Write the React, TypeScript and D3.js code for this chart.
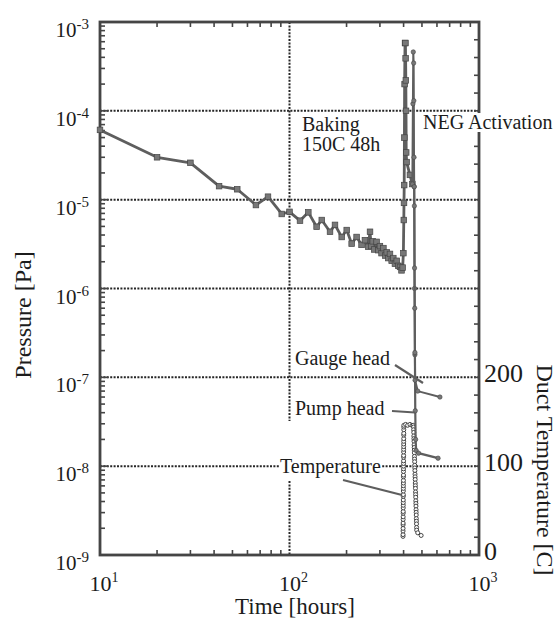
import React from 'react';
import * as d3 from 'd3';

const W = 560, H = 623;
const L = 100, R = 479, T = 22, B = 555;

// Gauge head pressure [Pa] vs time [hours]
const gaugeTime = [10, 20, 30, 42.5, 53, 66.5, 77, 91, 100, 113.6, 125.7, 139, 148, 163.6, 173.8, 188.6, 200.4, 212.8, 226, 240, 250, 260, 266, 270, 275, 280, 288, 294, 300, 306, 313, 320, 326, 332, 339, 346, 353, 360, 368, 375, 383, 390, 395.5,
  399, 401, 402, 403, 404, 405, 407, 409, 410, 411, 412, 413, 415, 432, 445, 448, 450, 452, 453, 454, 455, 456, 457, 458, 459, 460, 475, 622];
const gaugePressure = [6.1e-5, 3.0e-5, 2.6e-5, 1.42e-5, 1.31e-5, 8.7e-6, 1.08e-5, 6.9e-6, 7.3e-6, 5.8e-6, 7.2e-6, 4.95e-6, 5.9e-6, 4.35e-6, 5.2e-6, 3.8e-6, 4.55e-6, 3.2e-6, 3.8e-6, 3.1e-6, 3.5e-6, 2.95e-6, 4.35e-6, 3.0e-6, 3.4e-6, 2.75e-6, 3.35e-6, 2.7e-6, 3.0e-6, 2.5e-6, 2.85e-6, 2.35e-6, 2.55e-6, 2.2e-6, 2.45e-6, 2.05e-6, 2.2e-6, 1.9e-6, 2.05e-6, 1.8e-6, 1.75e-6, 1.6e-6, 1.72e-6,
  2.5e-6, 5.9e-6, 9.2e-6, 1.46e-5, 5.0e-5, 2.0e-4, 5.8e-4, 5.8e-4, 3.9e-4, 2.2e-4, 1.0e-4, 3.4e-5, 2.65e-5, 1.9e-5, 1.5e-5, 1.2e-4, 4.6e-4, 3.45e-4, 1.3e-4, 3.0e-5, 1.4e-5, 8.5e-6, 1.7e-6, 6.0e-7, 1.9e-7, 9.3e-8, 7.0e-8, 6.0e-8];
const negStart = 448; // NEG activation time [hours]

// Pump head pressure tail
const pumpTime = [455, 457, 459, 461, 463, 466, 480, 608];
const pumpPressure = [1.4e-5, 1.0e-6, 1.8e-7, 4.2e-8, 2.0e-8, 1.5e-8, 1.4e-8, 1.23e-8];

// Duct temperature [C]
const tempTime = [397.2, 397.3, 397.4, 397.5, 397.6, 397.7, 397.8, 397.9, 398.0, 398.1, 398.2, 398.3, 398.4, 398.5, 398.6, 398.7, 398.8, 398.9, 399.0, 399.1, 399.2, 399.3, 399.4, 399.5, 399.6, 399.7, 399.8, 399.9, 400.0, 400.1, 400.2, 400.3, 400.4, 400.5, 400.6, 400.7, 400.8, 400.9, 401.0, 401.1, 401.2,
  410, 420, 432, 443, 450,
  451.5, 452, 452.5, 453, 453.5, 454, 454.5, 455, 455.5, 456, 456.5, 457, 457.5, 458, 458.5, 459, 459.5, 460, 460.5, 461, 461.5, 462, 462.5, 463, 463.5, 464, 464.5, 465, 465.5, 466, 466.5, 467, 467.5, 468, 468.5, 469, 475, 495];
const tempValue = [21, 23, 27, 30, 34, 36, 40, 43, 47, 49, 53, 56, 59, 62, 66, 68, 72, 75, 78, 81, 84, 88, 90, 94, 97, 100, 103, 106, 110, 112, 116, 119, 122, 125, 128, 131, 135, 137, 141, 144, 146,
  147, 146, 147, 146, 146,
  144, 141, 138, 134, 131, 128, 124, 121, 118, 115, 111, 108, 105, 101, 98, 95, 91, 88, 85, 81, 78, 75, 71, 68, 65, 61, 58, 55, 51, 48, 45, 41, 38, 35, 31, 28, 25, 22, 21, 20];

const pressureDecades = [1e-9, 1e-8, 1e-7, 1e-6, 1e-5, 1e-4, 1e-3];
const pressureExp = ['-9', '-8', '-7', '-6', '-5', '-4', '-3'];
const timeDecades = [10, 100, 1000];
const timeExp = ['1', '2', '3'];
const tempLabels = [0, 100, 200];
const minorMult = [2, 3, 4, 5, 6, 7, 8, 9];

const FONT = "'Liberation Serif', 'Times New Roman', serif";
const INK = '#1c1c1c';
const LINE = '#5e5e5e';
const AX = '#454545';

export default function App() {
  const x = d3.scaleLog().domain([10, 1000]).range([L, R]);
  const y = d3.scaleLog().domain([1e-9, 1e-3]).range([B, T]);
  const yT = d3.scaleLinear().domain([0, 600]).range([B, T]);

  const line = d3.line<[number, number]>().x(d => x(d[0])).y(d => y(d[1]));
  const lineT = d3.line<[number, number]>().x(d => x(d[0])).y(d => yT(d[1]));

  const gauge: [number, number][] = gaugeTime.map((t, i) => [t, gaugePressure[i]]);
  const gaugeBake = gauge.filter(d => d[0] < negStart);
  const gaugeNeg = gauge.filter(d => d[0] >= 445);
  const pump: [number, number][] = pumpTime.map((t, i) => [t, pumpPressure[i]]);
  const temp: [number, number][] = tempTime.map((t, i) => [t, tempValue[i]]);

  const yMinor: number[] = [];
  pressureDecades.slice(0, -1).forEach(d => minorMult.forEach(m => yMinor.push(d * m)));
  const xMinor: number[] = [];
  timeDecades.slice(0, -1).forEach(d => minorMult.forEach(m => xMinor.push(d * m)));
  const tTicks = d3.range(0, 601, 20);

  const grid = { stroke: '#262626', strokeWidth: 2, strokeDasharray: '2 1.4' };

  return (
    <svg width={W} height={H} style={{ position: 'absolute', left: 0, top: 0, background: '#fff' }} fontFamily={FONT}>
      <rect x={0} y={0} width={W} height={H} fill="#fff" />
      {/* grid */}
      {pressureDecades.slice(1, -1).map(d => (
        <line key={'gh' + d} x1={L} x2={R} y1={y(d)} y2={y(d)} {...grid} />
      ))}
      <line x1={x(100)} x2={x(100)} y1={T} y2={B} {...grid} />

      {/* label box hiding grid */}
      <rect x={279} y={421} width={103} height={60} fill="#fff" />

      {/* frame */}
      <rect x={L} y={T} width={R - L} height={B - T} fill="none" stroke={AX} strokeWidth={2.8} />
      {/* ticks */}
      {yMinor.map(v => (
        <line key={'ly' + v} x1={L} x2={L + 5} y1={y(v)} y2={y(v)} stroke={AX} strokeWidth={1.6} />
      ))}
      {pressureDecades.map(v => (
        <line key={'lyM' + v} x1={L} x2={L + 8} y1={y(v)} y2={y(v)} stroke={AX} strokeWidth={1.6} />
      ))}
      {xMinor.map(v => (
        <g key={'tx' + v}>
          <line x1={x(v)} x2={x(v)} y1={B} y2={B - 5} stroke={AX} strokeWidth={1.6} />
          <line x1={x(v)} x2={x(v)} y1={T} y2={T + 5} stroke={AX} strokeWidth={1.6} />
        </g>
      ))}
      {tTicks.map(v => (
        <line key={'rt' + v} x1={R} x2={R - 5} y1={yT(v)} y2={yT(v)} stroke={AX} strokeWidth={1.6} />
      ))}

      {/* data: temperature */}
      <path d={lineT(temp) || ''} fill="none" stroke="#666" strokeWidth={0.8} />
      {temp.map((d, i) => (
        <circle key={'tc' + i} cx={x(d[0])} cy={yT(d[1])} r={2} fill="#fff" stroke="#444" strokeWidth={1} />
      ))}

      {/* pump head */}
      <path d={line(pump) || ''} fill="none" stroke={LINE} strokeWidth={2.2} />
      {pump.map((d, i) => (
        <circle key={'pm' + i} cx={x(d[0])} cy={y(d[1])} r={2.2} fill="#777" stroke="#444" strokeWidth={0.6} />
      ))}

      {/* gauge head: pre-bake and bake */}
      <path d={line(gaugeBake) || ''} fill="none" stroke={LINE} strokeWidth={2.8} strokeLinejoin="round" />
      {gaugeBake.map((d, i) => (
        <rect key={'gm' + i} x={x(d[0]) - 2.8} y={y(d[1]) - 2.8} width={5.6} height={5.6} fill="#777" stroke="#444" strokeWidth={0.7} />
      ))}
      {/* gauge head: NEG activation */}
      <path d={line(gaugeNeg) || ''} fill="none" stroke={LINE} strokeWidth={2} strokeLinejoin="round" />
      {gaugeNeg.map((d, i) => (
        <circle key={'gn' + i} cx={x(d[0])} cy={y(d[1])} r={2.2} fill="#777" stroke="#444" strokeWidth={0.6} />
      ))}

      {/* tick labels */}
      {pressureDecades.map((v, i) => (
        <text key={'pl' + v} x={89} y={y(v) + 15} textAnchor="end" fontSize={21} fill={INK}>
          10<tspan dy={-8} fontSize={15}>{pressureExp[i]}</tspan>
        </text>
      ))}
      {timeDecades.map((v, i) => (
        <text key={'xl' + v} x={x(v) + 4} y={591} textAnchor="middle" fontSize={22} fill={INK}>
          10<tspan dy={-9} fontSize={14}>{timeExp[i]}</tspan>
        </text>
      ))}
      {tempLabels.map(v => (
        <text key={'tl' + v} x={484} y={yT(v) + 5} fontSize={26} fill={INK}>{v}</text>
      ))}

      {/* axis titles */}
      <text x={295} y={614} textAnchor="middle" fontSize={23} fill={INK}>Time [hours]</text>
      <text transform="translate(31,315) rotate(-90)" textAnchor="middle" fontSize={24} fill={INK}>Pressure [Pa]</text>
      <text transform="translate(537,470) rotate(90)" textAnchor="middle" fontSize={24} fill={INK}>Duct Temperature [C]</text>

      {/* annotations */}
      <text x={302} y={131} fontSize={20} fill={INK}>Baking</text>
      <text x={302} y={151} fontSize={20} fill={INK}>150C 48h</text>
      <rect x={421} y={113} width={139} height={19} fill="#fff" />
      <text x={423} y={129} fontSize={20} fill={INK}>NEG Activation</text>

      <text x={295} y={365} fontSize={20} fill={INK}>Gauge head</text>
      <line x1={395} y1={365} x2={423} y2={383} stroke={LINE} strokeWidth={2.2} />
      <text x={295} y={415} fontSize={20} fill={INK}>Pump head</text>
      <line x1={392} y1={411} x2={415} y2={412.5} stroke={LINE} strokeWidth={2.2} />
      <text x={280} y={473} fontSize={20} fill={INK}>Temperature</text>
      <line x1={343} y1={480} x2={402} y2={495} stroke={LINE} strokeWidth={2.2} />
    </svg>
  );
}
